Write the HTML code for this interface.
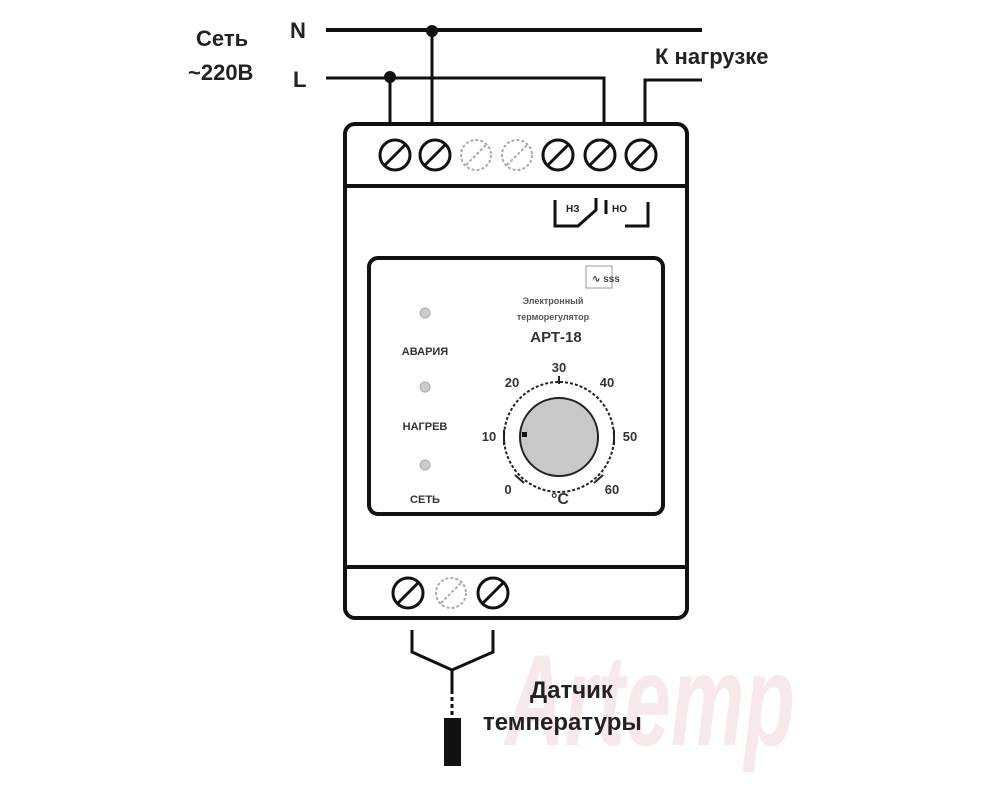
<!DOCTYPE html>
<html><head><meta charset="utf-8"><style>
html,body{margin:0;padding:0;background:#fff}
svg{display:block}
text{font-family:"Liberation Sans",sans-serif;font-weight:bold}
</style></head><body>
<svg width="1000" height="800" viewBox="0 0 1000 800">
<!-- watermark -->
<text x="505" y="745" font-size="130" fill="#f7e9e9" font-weight="normal" font-style="italic" style="font-family:'Liberation Sans',sans-serif" textLength="290" lengthAdjust="spacingAndGlyphs">Artemp</text>

<g stroke="#111" fill="none" stroke-width="3">
<line x1="326" y1="30" x2="702" y2="30" stroke-width="4"/>
<polyline points="326,78 604,78 604,122"/>
<polyline points="702,80 645,80 645,122"/>
<line x1="390" y1="78" x2="390" y2="122"/>
<line x1="432" y1="30" x2="432" y2="122"/>
</g>
<circle cx="432" cy="31" r="6" fill="#111"/>
<circle cx="390" cy="77" r="6" fill="#111"/>

<text x="196" y="46" font-size="22" fill="#222">Сеть</text>
<text x="188" y="80" font-size="22" fill="#222">~220В</text>
<text x="290" y="38" font-size="22" fill="#222">N</text>
<text x="293" y="87" font-size="22" fill="#222">L</text>
<text x="655" y="64" font-size="22" fill="#222">К нагрузке</text>

<!-- main box -->
<rect x="345" y="124" width="342" height="494" rx="10" fill="none" stroke="#111" stroke-width="4"/>
<line x1="345" y1="186" x2="687" y2="186" stroke="#111" stroke-width="4"/>
<line x1="345" y1="567" x2="687" y2="567" stroke="#111" stroke-width="4"/>

<g stroke-width="3" fill="none">
<g stroke="#111">
<circle cx="395" cy="155" r="15"/><line x1="385" y1="165" x2="405" y2="145"/>
<circle cx="435" cy="155" r="15"/><line x1="425" y1="165" x2="445" y2="145"/>
<circle cx="558" cy="155" r="15"/><line x1="548" y1="165" x2="568" y2="145"/>
<circle cx="600" cy="155" r="15"/><line x1="590" y1="165" x2="610" y2="145"/>
<circle cx="641" cy="155" r="15"/><line x1="631" y1="165" x2="651" y2="145"/>
<circle cx="408" cy="593" r="15"/><line x1="398" y1="603" x2="418" y2="583"/>
<circle cx="493" cy="593" r="15"/><line x1="483" y1="603" x2="503" y2="583"/>
</g>
<g stroke="#aaa" stroke-dasharray="3,2" stroke-width="2">
<circle cx="476" cy="155" r="15"/><line x1="466" y1="165" x2="486" y2="145"/>
<circle cx="517" cy="155" r="15"/><line x1="507" y1="165" x2="527" y2="145"/>
<circle cx="451" cy="593" r="15"/><line x1="441" y1="603" x2="461" y2="583"/>
</g>
</g>

<!-- relay -->
<g stroke="#111" stroke-width="3" fill="none">
<polyline points="555,200 555,226 578,226 596,210 596,198"/>
<polyline points="648,202 648,226 625,226"/>
<line x1="606" y1="200" x2="606" y2="214"/>
</g>
<text x="566" y="212" font-size="10" fill="#222">НЗ</text>
<text x="612" y="212" font-size="10" fill="#222">НО</text>

<!-- inner panel -->
<rect x="369" y="258" width="294" height="256" rx="9" fill="#fff" stroke="#111" stroke-width="4"/>
<rect x="586" y="266" width="26" height="22" fill="none" stroke="#999" stroke-width="1"/>
<text x="592" y="282" font-size="10" fill="#444">∿ sss</text>
<text x="553" y="304" font-size="9" fill="#555" text-anchor="middle" font-weight="normal">Электронный</text>
<text x="553" y="320" font-size="9" fill="#555" text-anchor="middle" font-weight="normal">терморегулятор</text>
<text x="556" y="342" font-size="15" fill="#333" text-anchor="middle">АРТ-18</text>

<g fill="#ccc" stroke="#aaa" stroke-width="1">
<circle cx="425" cy="313" r="5"/><circle cx="425" cy="387" r="5"/><circle cx="425" cy="465" r="5"/>
</g>
<text x="425" y="355" font-size="11" fill="#333" text-anchor="middle">АВАРИЯ</text>
<text x="425" y="430" font-size="11" fill="#333" text-anchor="middle">НАГРЕВ</text>
<text x="425" y="503" font-size="11" fill="#333" text-anchor="middle">СЕТЬ</text>

<circle cx="559" cy="437" r="55" fill="none" stroke="#222" stroke-width="2" stroke-dasharray="3,2"/>
<circle cx="559" cy="437" r="39" fill="#c8c8c8" stroke="#222" stroke-width="2"/>
<rect x="522" y="432" width="5" height="5" fill="#111"/>
<g stroke="#222" stroke-width="2">
<line x1="504" y1="430" x2="504" y2="445"/><line x1="614" y1="430" x2="614" y2="445"/>
<line x1="559" y1="376" x2="559" y2="384"/>
<line x1="515" y1="475" x2="524" y2="483"/><line x1="603" y1="475" x2="594" y2="483"/>
</g>
<g font-size="13" fill="#333">
<text x="559" y="372" text-anchor="middle">30</text>
<text x="512" y="387" text-anchor="middle">20</text>
<text x="607" y="387" text-anchor="middle">40</text>
<text x="489" y="441" text-anchor="middle">10</text>
<text x="630" y="441" text-anchor="middle">50</text>
<text x="508" y="494" text-anchor="middle">0</text>
<text x="612" y="494" text-anchor="middle">60</text>
<text x="560" y="504" text-anchor="middle" font-size="16">°C</text>
</g>

<!-- sensor wires -->
<g stroke="#111" stroke-width="3" fill="none">
<polyline points="412,630 412,652 452,670 493,652 493,630"/>
<line x1="452" y1="670" x2="452" y2="690"/>
<line x1="452" y1="690" x2="452" y2="718" stroke-dasharray="4,3"/>
</g>
<rect x="444" y="718" width="17" height="48" fill="#111"/>
<text x="530" y="698" font-size="24" fill="#222">Датчик</text>
<text x="483" y="730" font-size="24" fill="#222">температуры</text>
</svg>
</body></html>
